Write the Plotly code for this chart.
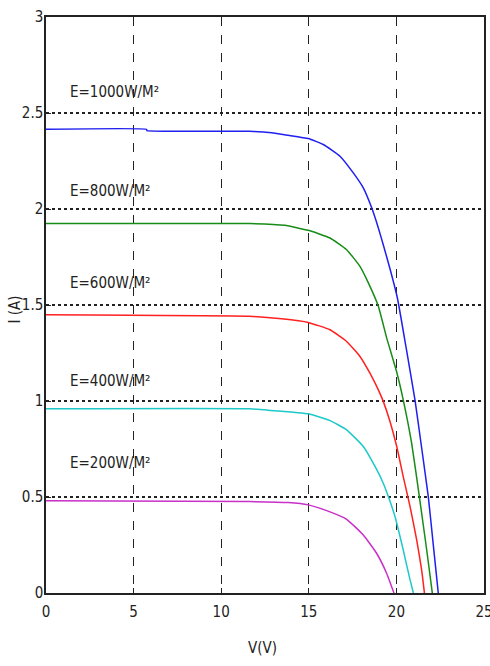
import plotly.graph_objects as go

# I-V characteristics of a PV module at five irradiance levels
irradiance_labels = ["E=1000W/M²", "E=800W/M²", "E=600W/M²", "E=400W/M²", "E=200W/M²"]
label_current = [2.607, 2.092, 1.616, 1.105, 0.678]
label_voltage = 1.25

v_1000 = [0, 5.74, 5.76, 11.64, 12.88, 13.83, 14.97, 15.83, 16.78, 17.54, 18.11, 18.59,
          18.97, 19.25, 19.63, 20.06, 20.55, 21.06, 21.45, 21.82, 22.1, 22.39]
i_1000 = [2.415, 2.415, 2.408, 2.405, 2.397, 2.384, 2.367, 2.336, 2.275, 2.188, 2.110, 2.006,
          1.901, 1.814, 1.690, 1.535, 1.280, 1.006, 0.750, 0.502, 0.256, 0.0]

v_800 = [0, 11.64, 13.63, 14.97, 16.21, 17.16, 17.92, 18.40, 18.97, 19.44, 20.02, 20.39,
         20.87, 21.31, 21.73, 22.05]
i_800 = [1.924, 1.924, 1.915, 1.889, 1.849, 1.788, 1.701, 1.615, 1.493, 1.330, 1.150, 1.006,
         0.780, 0.502, 0.224, 0.0]

v_600 = [0, 11.64, 13.45, 14.97, 16.21, 17.16, 17.92, 18.49, 18.97, 19.25, 19.63, 20.02,
         20.39, 20.78, 21.16, 21.44, 21.6]
i_600 = [1.449, 1.441, 1.428, 1.409, 1.371, 1.310, 1.232, 1.145, 1.058, 0.998, 0.895, 0.763,
         0.606, 0.450, 0.276, 0.120, 0.0]

v_400 = [0, 11.64, 12.79, 14.97, 16.21, 17.16, 18.11, 18.78, 19.25, 19.54, 19.92, 20.39,
         20.78, 20.97]
i_400 = [0.959, 0.959, 0.951, 0.933, 0.898, 0.850, 0.763, 0.659, 0.572, 0.502, 0.398, 0.224,
         0.068, 0.0]

v_200 = [0, 11.64, 13.83, 14.97, 16.02, 17.16, 18.11, 18.87, 19.44, 19.86]
i_200 = [0.480, 0.476, 0.471, 0.459, 0.429, 0.384, 0.302, 0.207, 0.103, 0.0]

x_ticks = [0, 5, 10, 15, 20, 25]
y_ticks = [0, 0.5, 1, 1.5, 2, 2.5, 3]

curves = [
    (v_1000, i_1000, "#1f1ff0"),
    (v_800, i_800, "#178c17"),
    (v_600, i_600, "#ff2020"),
    (v_400, i_400, "#1ec8c8"),
    (v_200, i_200, "#c830c8"),
]

FONT = "Liberation Sans Narrow, DejaVu Sans Condensed, Arial Narrow, sans-serif"
TEXT = dict(family=FONT, size=15, color="#222")

fig = go.Figure()
for v, i, c in curves:
    fig.add_trace(go.Scatter(x=v, y=i, mode="lines",
                             line=dict(color=c, width=1.5, shape="spline", smoothing=0.4),
                             showlegend=False))

for txt, yv in zip(irradiance_labels, label_current):
    fig.add_annotation(x=label_voltage, y=yv, text=txt, showarrow=False,
                       xanchor="left", yanchor="middle", font=TEXT)

# axis titles placed in paper coordinates
fig.add_annotation(text="I (A)", xref="paper", yref="paper", x=-0.071, y=0.492,
                   textangle=-90, showarrow=False, xanchor="center", yanchor="middle",
                   font=TEXT)
fig.add_annotation(text="V(V)", xref="paper", yref="paper", x=0.495, y=-0.0956,
                   showarrow=False, xanchor="center", yanchor="middle", font=TEXT)

fig.update_layout(
    width=490, height=666,
    margin=dict(l=46, r=6, t=17, b=73),
    plot_bgcolor="white", paper_bgcolor="white",
    font=TEXT,
    xaxis=dict(range=[0, 25], tickvals=x_ticks, showgrid=True,
               gridcolor="#222", griddash="dash", gridwidth=1,
               showline=True, linecolor="#222", linewidth=1.5, mirror=True,
               ticks="inside", ticklen=5, tickcolor="#222", zeroline=False,
               ticklabelstandoff=4, ticklabeloverflow="allow", automargin=False),
    yaxis=dict(range=[0, 3], tickvals=y_ticks, showgrid=True,
               gridcolor="#222", griddash="dot", gridwidth=1.5,
               showline=True, linecolor="#222", linewidth=1.5, mirror=True,
               ticks="inside", ticklen=5, tickcolor="#222", zeroline=False,
               ticklabelstandoff=-2, automargin=False),
)

fig.write_html("out.html")
